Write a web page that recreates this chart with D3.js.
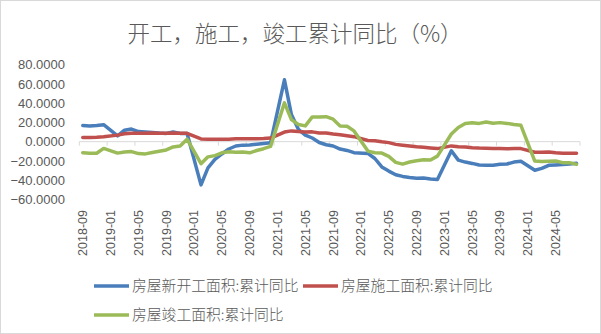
<!DOCTYPE html>
<html><head><meta charset="utf-8">
<script src="https://cdn.jsdelivr.net/npm/d3@7"></script>
<style>
html,body{margin:0;padding:0;background:#fff;}
svg{display:block;}
</style></head>
<body>
<svg id="c" width="601" height="334"></svg>
<script>
const title = "开工，施工，竣工累计同比（%）";
const months = [
 "2018-09","2018-10","2018-11","2018-12",
 "2019-01","2019-02","2019-03","2019-04","2019-05","2019-06","2019-07","2019-08","2019-09","2019-10","2019-11","2019-12",
 "2020-01","2020-02","2020-03","2020-04","2020-05","2020-06","2020-07","2020-08","2020-09","2020-10","2020-11","2020-12",
 "2021-01","2021-02","2021-03","2021-04","2021-05","2021-06","2021-07","2021-08","2021-09","2021-10","2021-11","2021-12",
 "2022-01","2022-02","2022-03","2022-04","2022-05","2022-06","2022-07","2022-08","2022-09","2022-10","2022-11","2022-12",
 "2023-01","2023-02","2023-03","2023-04","2023-05","2023-06","2023-07","2023-08","2023-09","2023-10","2023-11","2023-12",
 "2024-01","2024-02","2024-03","2024-04","2024-05","2024-06","2024-07","2024-08"
];
const seriesNames = ["房屋新开工面积:累计同比","房屋施工面积:累计同比","房屋竣工面积:累计同比"];
const seriesColors = ["#4A7EBB","#C0504D","#9BBB59"];
const newStarts = [
 16.8,16.3,16.8,17.6,
 null,6.0,11.9,13.1,10.5,10.1,9.5,8.9,8.6,10.0,8.6,8.5,
 null,-44.9,-27.2,-18.4,-12.8,-7.6,-4.5,-3.6,-3.4,-2.7,-2.0,-1.2,
 null,64.3,28.2,12.8,6.9,3.8,-0.9,-3.2,-4.5,-7.7,-9.1,-11.4,
 null,-12.2,-17.5,-26.3,-30.6,-34.4,-36.1,-37.2,-38.0,-37.8,-38.9,-39.4,
 null,-9.4,-19.2,-21.2,-22.6,-24.3,-24.5,-24.4,-23.4,-23.2,-21.2,-20.4,
 null,-29.7,-27.8,-24.6,-24.2,-23.7,-23.2,-22.5
];
const underConstruction = [
 4.4,4.4,4.7,5.2,
 null,6.8,8.2,8.8,8.8,8.8,9.0,8.8,8.7,9.0,8.7,8.7,
 null,2.9,2.6,2.5,2.6,2.6,3.0,3.1,3.1,3.0,3.2,3.7,
 null,10.0,11.2,10.5,10.1,10.2,9.0,8.9,7.9,7.1,6.1,5.2,
 null,1.2,1.0,-0.1,-1.0,-2.8,-3.7,-4.5,-5.3,-5.7,-6.5,-7.2,
 null,-4.4,-5.2,-5.6,-6.2,-6.6,-6.8,-7.1,-7.1,-7.3,-7.2,-7.2,
 null,-11.0,-11.1,-10.8,-11.6,-12.0,-12.1,-12.0
];
const completed = [
 -11.5,-12.0,-12.0,-7.0,
 null,-11.9,-10.8,-10.3,-12.4,-12.7,-11.3,-10.0,-8.6,-5.5,-4.5,2.6,
 null,-22.9,-15.8,-14.5,-11.6,-10.5,-11.0,-10.8,-11.6,-9.2,-7.3,-4.9,
 null,40.4,22.9,17.9,16.4,25.7,25.7,26.0,23.4,16.3,16.0,11.2,
 null,-9.8,-11.5,-11.9,-15.3,-21.5,-23.3,-21.1,-19.9,-18.7,-19.0,-15.0,
 null,8.0,14.7,18.8,19.6,19.0,20.5,19.2,19.8,19.0,17.9,17.0,
 null,-20.2,-20.7,-20.4,-20.1,-21.8,-21.8,-23.6
];
const yTicks = [-60,-40,-20,0,20,40,60,80];

const svg = d3.select("#c");
const W = 601, H = 334;
svg.append("rect").attr("x",0.5).attr("y",0.5).attr("width",W-1).attr("height",H-1)
  .attr("fill","#fff").attr("stroke","#d9d9d9");

svg.append("text").attr("x",295).attr("y",42).attr("text-anchor","middle")
  .attr("font-family","'Noto Sans CJK SC'").attr("font-weight",300).attr("font-size",22.5)
  .attr("fill","#595959").text(title);

const x = d3.scaleBand().domain(months).range([79.3,580]).padding(0);
const bw = x.bandwidth();
const cx = m => x(m) + bw/2;
const y = d3.scaleLinear().domain([-60,80]).range([199.4,64.7]);

// y axis labels
const ya = svg.append("g").attr("transform","translate(65,0)")
  .call(d3.axisLeft(y).tickValues(yTicks).tickFormat(d3.format(".4f")).tickSize(0).tickPadding(0));
ya.select(".domain").remove();
ya.selectAll("text").attr("font-family","'Liberation Sans', Arial, sans-serif").attr("font-size",13).attr("fill","#595959");

// zero axis line and ticks
const zx = svg.append("g");
zx.append("line").attr("x1",x.range()[0]).attr("x2",x.range()[1]).attr("y1",y(0)).attr("y2",y(0))
  .attr("stroke","#d9d9d9").attr("stroke-width",1);
const tickPos = months.filter((m,i)=>i%4===0).map(m=>x(m)).concat([x.range()[1]]);
zx.selectAll("line.t").data(tickPos).join("line").attr("class","t")
  .attr("x1",d=>d).attr("x2",d=>d).attr("y1",y(0)).attr("y2",y(0)+4)
  .attr("stroke","#d9d9d9").attr("stroke-width",1);

// x labels
const labelMonths = months.filter((m,i)=>i%4===0);
const xa = svg.append("g").attr("transform","translate(0,210)")
  .call(d3.axisBottom(x).tickValues(labelMonths).tickSize(0).tickPadding(0));
xa.select(".domain").remove();
xa.selectAll("text").attr("transform","rotate(-90)").attr("text-anchor","end")
  .attr("x",0).attr("y",0).attr("dy","0.35em")
  .attr("font-family","'Liberation Sans', Arial, sans-serif").attr("font-size",12.5).attr("fill","#595959");

// lines
const allSeries = [newStarts, underConstruction, completed];
const line = d3.line().x(d=>cx(d.m)).y(d=>y(d.v));
allSeries.forEach((vals,k)=>{
  const pts = months.map((m,i)=>({m, v: vals[i]})).filter(d=>d.v!==null);
  svg.append("path").datum(pts).attr("d",line).attr("fill","none")
    .attr("stroke",seriesColors[k]).attr("stroke-width",3.5)
    .attr("stroke-linejoin","round").attr("stroke-linecap","round");
});

// legend
const legendPos = [[94,286],[303,286],[94,315]];
seriesNames.forEach((n,k)=>{
  const [lx,ly] = legendPos[k];
  svg.append("line").attr("x1",lx).attr("x2",lx+35).attr("y1",ly).attr("y2",ly)
    .attr("stroke",seriesColors[k]).attr("stroke-width",3.5);
  svg.append("text").attr("x",lx+38).attr("y",ly).attr("dy","0.36em")
    .attr("font-family","'Noto Sans CJK SC'").attr("font-weight",300).attr("font-size",14.8)
    .attr("fill","#595959").text(n);
});
</script>
</body></html>
